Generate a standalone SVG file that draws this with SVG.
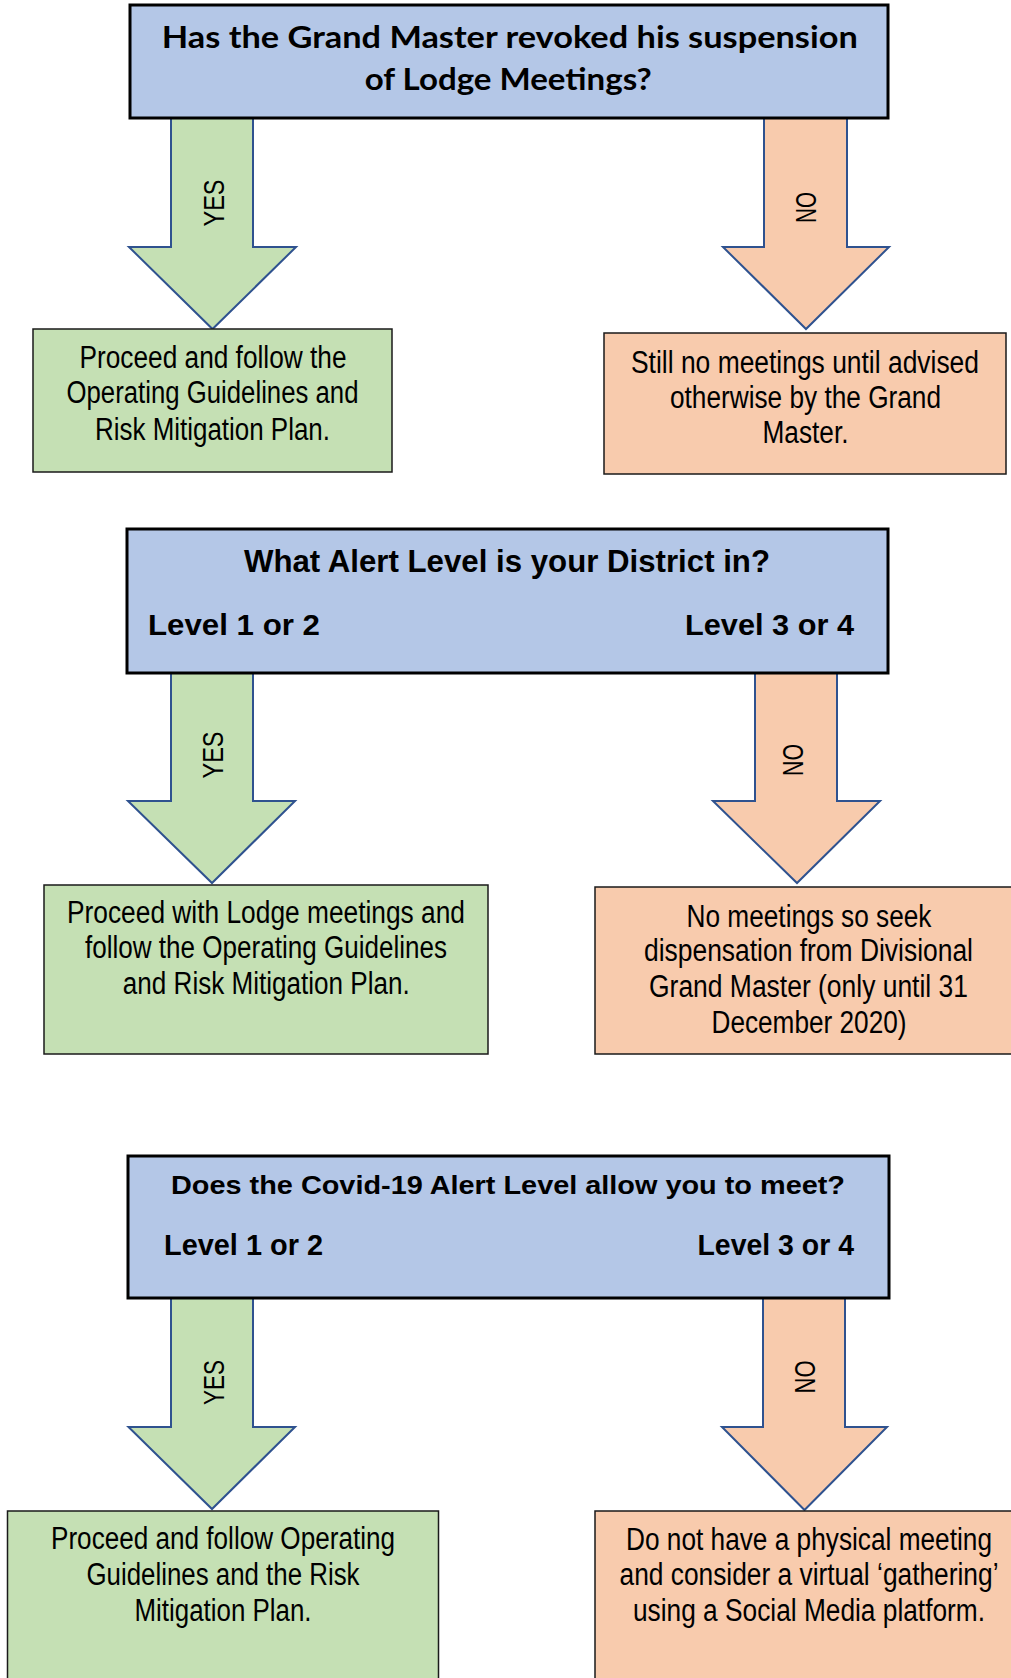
<svg xmlns="http://www.w3.org/2000/svg" width="1011" height="1678" viewBox="0 0 1011 1678">
<style>
.q{fill:#B4C7E7;stroke:#000;stroke-width:3}
.g{fill:#C5E0B4;stroke:#1a1a1a;stroke-width:1.5}
.o{fill:#F8CBAD;stroke:#1a1a1a;stroke-width:1.5}
.ag{fill:#C5E0B4;stroke:#2F528F;stroke-width:2;stroke-linejoin:miter}
.ao{fill:#F8CBAD;stroke:#2F528F;stroke-width:2;stroke-linejoin:miter}
.t1{font-family:"Lato","Liberation Sans",sans-serif;font-weight:bold;font-size:30px;fill:#000;text-anchor:middle}
.tb{font-family:"Liberation Sans Narrow","Liberation Sans",sans-serif;font-weight:bold;fill:#000}
.tx{font-family:"Liberation Sans Narrow","Liberation Sans",sans-serif;font-size:31px;fill:#000;text-anchor:middle}
.lb{font-family:"Liberation Sans Narrow","Liberation Sans",sans-serif;font-size:30px;fill:#000;text-anchor:middle}
</style>
<g id="connectors">
<polygon class="ag" points="171,118 253,118 253,247 296,247 212.5,329 129,247 171,247"/>
<polygon class="ao" points="764,118 847,118 847,247 889,247 806,329 723,247 764,247"/>
<polygon class="ag" points="171,673 253,673 253,801 295,801 212,883 128,801 171,801"/>
<polygon class="ao" points="755,673 837,673 837,801 880,801 797,883 713,801 755,801"/>
<polygon class="ag" points="171,1298 253,1298 253,1427 295,1427 212,1509 128.5,1427 171,1427"/>
<polygon class="ao" points="763,1298 845,1298 845,1427 887,1427 804.5,1510 722,1427 763,1427"/>
<text class="lb" transform="translate(213,203) rotate(-90)" y="10.5" textLength="47" lengthAdjust="spacingAndGlyphs">YES</text>
<text class="lb" transform="translate(805,207.5) rotate(-90)" y="10.5" textLength="31" lengthAdjust="spacingAndGlyphs">NO</text>
<text class="lb" transform="translate(212,755) rotate(-90)" y="10.5" textLength="47" lengthAdjust="spacingAndGlyphs">YES</text>
<text class="lb" transform="translate(792,760) rotate(-90)" y="10.5" textLength="32" lengthAdjust="spacingAndGlyphs">NO</text>
<text class="lb" transform="translate(213.5,1382.5) rotate(-90)" y="10.5" textLength="45" lengthAdjust="spacingAndGlyphs">YES</text>
<text class="lb" transform="translate(804,1377) rotate(-90)" y="10.5" textLength="33" lengthAdjust="spacingAndGlyphs">NO</text>
</g>
<g id="q1">
<rect class="q" x="130" y="5" width="758" height="113"/>
<text class="t1" x="509.8" y="48.3" textLength="696" lengthAdjust="spacingAndGlyphs">Has the Grand Master revoked his suspension</text>
<text class="t1" x="508.3" y="90" textLength="287" lengthAdjust="spacingAndGlyphs">of Lodge Meetings?</text>
</g>
<g id="yes1">
<rect class="g" x="33" y="329" width="359" height="143"/>
<text class="tx" x="213" y="368" textLength="267" lengthAdjust="spacingAndGlyphs">Proceed and follow the</text>
<text class="tx" x="212.5" y="403" textLength="292" lengthAdjust="spacingAndGlyphs">Operating Guidelines and</text>
<text class="tx" x="212.5" y="440" textLength="235" lengthAdjust="spacingAndGlyphs">Risk Mitigation Plan.</text>
</g>
<g id="no1">
<rect class="o" x="604" y="333" width="402" height="141"/>
<text class="tx" x="805" y="373" textLength="348" lengthAdjust="spacingAndGlyphs">Still no meetings until advised</text>
<text class="tx" x="805.5" y="408" textLength="271" lengthAdjust="spacingAndGlyphs">otherwise by the Grand</text>
<text class="tx" x="805.5" y="443" textLength="86" lengthAdjust="spacingAndGlyphs">Master.</text>
</g>
<g id="q2">
<rect class="q" x="127" y="529" width="761" height="144"/>
<text class="tb" x="507" y="572" font-size="32" text-anchor="middle" textLength="526" lengthAdjust="spacingAndGlyphs">What Alert Level is your District in?</text>
<text class="tb" x="148" y="635" font-size="30" textLength="172" lengthAdjust="spacingAndGlyphs">Level 1 or 2</text>
<text class="tb" x="685" y="635" font-size="30" textLength="169" lengthAdjust="spacingAndGlyphs">Level 3 or 4</text>
</g>
<g id="yes2">
<rect class="g" x="44" y="885" width="444" height="169"/>
<text class="tx" x="266" y="923" textLength="398" lengthAdjust="spacingAndGlyphs">Proceed with Lodge meetings and</text>
<text class="tx" x="266" y="958" textLength="362" lengthAdjust="spacingAndGlyphs">follow the Operating Guidelines</text>
<text class="tx" x="266.3" y="994" textLength="287" lengthAdjust="spacingAndGlyphs">and Risk Mitigation Plan.</text>
</g>
<g id="no2">
<rect class="o" x="595" y="887" width="427" height="167"/>
<text class="tx" x="809" y="927" textLength="245" lengthAdjust="spacingAndGlyphs">No meetings so seek</text>
<text class="tx" x="808.5" y="961" textLength="329" lengthAdjust="spacingAndGlyphs">dispensation from Divisional</text>
<text class="tx" x="808.5" y="997" textLength="319" lengthAdjust="spacingAndGlyphs">Grand Master (only until 31</text>
<text class="tx" x="809" y="1033" textLength="195" lengthAdjust="spacingAndGlyphs">December 2020)</text>
</g>
<g id="q3">
<rect class="q" x="128" y="1156" width="761" height="142"/>
<text class="tb" x="508" y="1194" font-size="26" text-anchor="middle" textLength="674" lengthAdjust="spacingAndGlyphs">Does the Covid-19 Alert Level allow you to meet?</text>
<text class="tb" x="164" y="1255" font-size="29" textLength="159" lengthAdjust="spacingAndGlyphs">Level 1 or 2</text>
<text class="tb" x="697.5" y="1255" font-size="29" textLength="156.5" lengthAdjust="spacingAndGlyphs">Level 3 or 4</text>
</g>
<g id="yes3">
<rect class="g" x="7.5" y="1511" width="431" height="180"/>
<text class="tx" x="223" y="1549" textLength="344" lengthAdjust="spacingAndGlyphs">Proceed and follow Operating</text>
<text class="tx" x="223" y="1585" textLength="273" lengthAdjust="spacingAndGlyphs">Guidelines and the Risk</text>
<text class="tx" x="223" y="1621" textLength="177" lengthAdjust="spacingAndGlyphs">Mitigation Plan.</text>
</g>
<g id="no3">
<rect class="o" x="595" y="1511" width="427" height="180"/>
<text class="tx" x="809" y="1550" textLength="366" lengthAdjust="spacingAndGlyphs">Do not have a physical meeting</text>
<text class="tx" x="809" y="1585" textLength="379" lengthAdjust="spacingAndGlyphs">and consider a virtual ‘gathering’</text>
<text class="tx" x="809" y="1621" textLength="352" lengthAdjust="spacingAndGlyphs">using a Social Media platform.</text>
</g>
</svg>
